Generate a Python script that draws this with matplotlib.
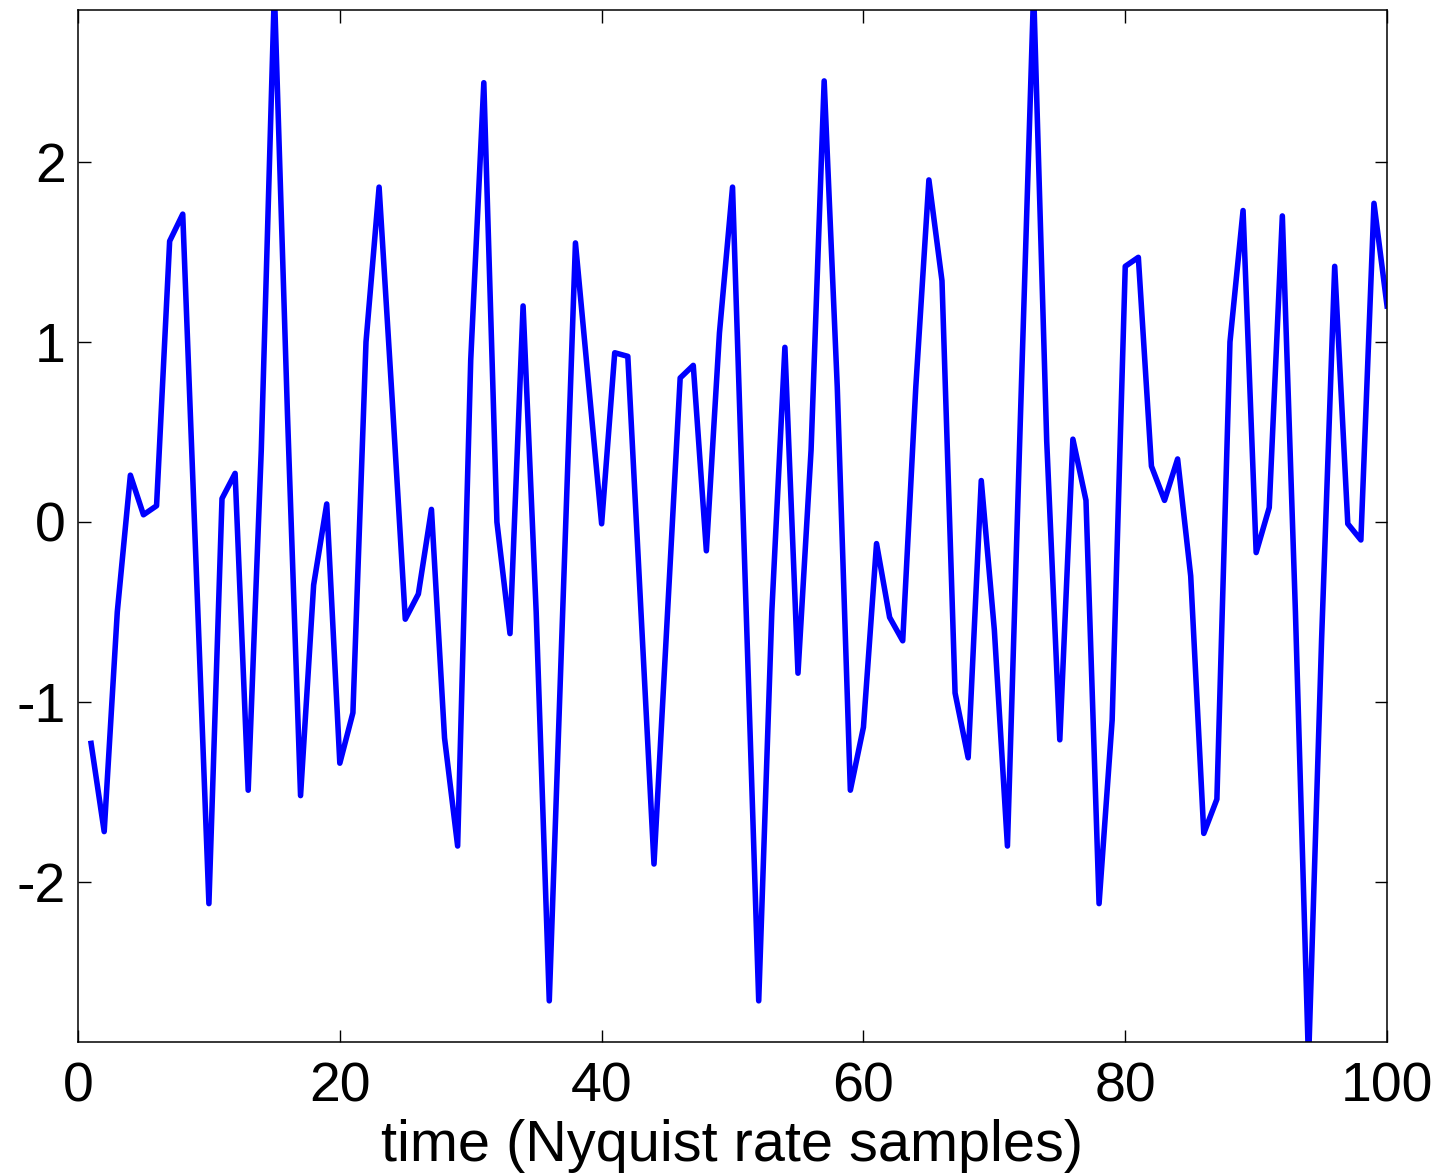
import matplotlib.pyplot as plt
import numpy as np

# samples 1..100
t = np.arange(1, 101)
x = [-1.23, -1.72, -0.5, 0.26, 0.04, 0.09, 1.56, 1.71, -0.2, -2.12,
     0.13, 0.27, -1.49, 0.4, 2.95, 0.6, -1.52, -0.35, 0.1, -1.34,
     -1.06, 1.0, 1.86, 0.68, -0.54, -0.4, 0.07, -1.2, -1.8, 0.9,
     2.44, 0.0, -0.62, 1.2, -0.5, -2.66, -0.55, 1.55, 0.77, -0.01,
     0.94, 0.92, -0.49, -1.9, -0.55, 0.8, 0.87, -0.16, 1.05, 1.86,
     -0.4, -2.66, -0.5, 0.97, -0.84, 0.4, 2.45, 0.75, -1.49, -1.14,
     -0.12, -0.53, -0.66, 0.75, 1.9, 1.34, -0.95, -1.31, 0.23, -0.6,
     -1.8, 0.6, 2.95, 0.45, -1.21, 0.46, 0.12, -2.12, -1.1, 1.42,
     1.47, 0.31, 0.12, 0.35, -0.3, -1.73, -1.54, 1.0, 1.73, -0.17,
     0.08, 1.7, -0.5, -3.0, -0.65, 1.42, -0.01, -0.1, 1.77, 1.2]

plt.rcParams['font.family'] = ['Liberation Sans', 'DejaVu Sans']
plt.rcParams['axes.unicode_minus'] = False

fig = plt.figure(figsize=(14.42, 11.76), dpi=100)
ax = fig.add_axes([0.0541, 0.1139, 0.9078, 0.8776])
ax.plot(t, x, color='#0000ff', linewidth=4)

ax.set_xlim(0, 100)
ax.set_ylim(-2.889, 2.844)
ax.set_xticks([0, 20, 40, 60, 80, 100])
ax.set_yticks([-2, -1, 0, 1, 2])
ax.tick_params(direction='in', length=9, width=1, top=True, right=True,
               labelsize=40, pad=9)
ax.tick_params(axis='x', pad=14)
for s in ax.spines.values():
    s.set_linewidth(1.1)
ax.set_xlabel('time (Nyquist rate samples)', fontsize=41.5, labelpad=4)

fig.savefig('out.png', dpi=100)
